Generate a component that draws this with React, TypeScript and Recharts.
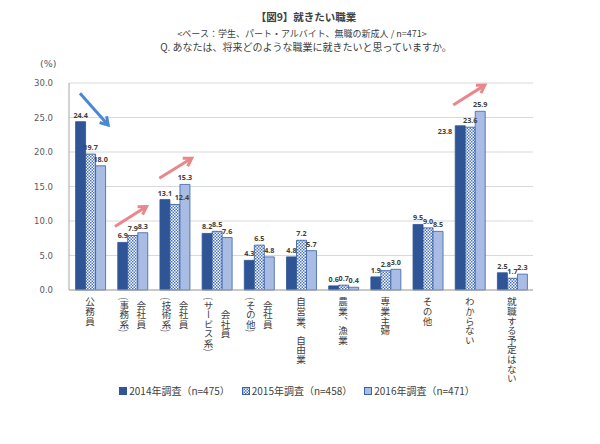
import React from "react";
import {
  BarChart,
  Bar,
  XAxis,
  YAxis,
  CartesianGrid,
  LabelList,
  ReferenceLine,
} from "recharts";

const categories = [
  "公務員",
  "会社員(事務系)",
  "会社員(技術系)",
  "会社員(サービス系)",
  "会社員(その他)",
  "自営業、自由業",
  "農業、漁業",
  "専業主婦",
  "その他",
  "わからない",
  "就職する予定はない",
];
const values2014 = [24.4, 6.9, 13.1, 8.2, 4.3, 4.8, 0.6, 1.9, 9.5, 23.8, 2.5];
const values2015 = [19.7, 7.9, 12.4, 8.5, 6.5, 7.2, 0.7, 2.8, 9.0, 23.6, 1.7];
const values2016 = [18.0, 8.3, 15.3, 7.6, 4.8, 5.7, 0.4, 3.0, 8.5, 25.9, 2.3];
const seriesNames = [
  "2014年調査（n=475）",
  "2015年調査（n=458）",
  "2016年調査（n=471）",
];
const yTicks = [0, 5, 10, 15, 20, 25, 30];

// trend arrows (annotation) in data space: [category position, value]
const blueArrows = [[[0.26, 28.5], [0.93, 23.9]]];
const pinkArrows = [
  [[1.09, 9.2], [1.84, 12.1]],
  [[2.14, 16.2], [2.91, 19.1]],
  [[9.11, 26.8], [9.86, 29.7]],
];
// label placement tweaks: 2014 label sitting left of its bar, 2015 label nudged right
const leftLabelIndex2014 = 9;
const nudgedLabelIndex2015 = 2;

const data = categories.map((c, i) => ({
  name: c,
  pos: i + 0.5,
  y2014: values2014[i],
  y2015: values2015[i],
  y2016: values2016[i],
}));

const C2014 = "#2F5597";
const C2016 = "#A9BCE3";
const BORDER = "#3A62A8";
const TEXT = "#404040";
const CJK = "'Noto Sans CJK JP', 'Noto Sans', sans-serif";

const splitLabel = (s: string): string[] => {
  const i = s.indexOf("(");
  if (i <= 0) return [s];
  return [s.slice(0, i), s.slice(i)];
};
const estLen = (s: string, fs: number) =>
  Array.from(s).reduce((a, ch) => a + (ch.charCodeAt(0) < 128 ? 0.34 : 1), 0) * fs;

const XTick = (props: any) => {
  const { x, y, payload } = props;
  const cols = splitLabel(String(payload.value));
  const fs = 9.6;
  const top = y + 7;
  const style: any = { writingMode: "vertical-rl", fontFamily: CJK };
  if (cols.length === 1) {
    return (
      <text x={x} y={top} fill={TEXT} fontSize={fs} textAnchor="start" style={style}>
        {cols[0]}
      </text>
    );
  }
  const L = Math.max(...cols.map((c) => estLen(c, fs)));
  return (
    <g>
      <text x={x + 9} y={top + L / 2} fill={TEXT} fontSize={fs} textAnchor="middle" style={style}>
        {cols[0]}
      </text>
      <text x={x - 8} y={top + L / 2} fill={TEXT} fontSize={fs} textAnchor="middle" style={style}>
        {cols[1]}
      </text>
    </g>
  );
};

const arrowShape = (color: string) => (p: any) => {
  const { x1, y1, x2, y2 } = p;
  if ([x1, y1, x2, y2].some((v) => typeof v !== "number" || isNaN(v))) return <g />;
  const ang = Math.atan2(y2 - y1, x2 - x1);
  const hl = 9;
  const a1 = ang + Math.PI - 0.55;
  const a2 = ang + Math.PI + 0.55;
  return (
    <g>
      <line x1={x1} y1={y1} x2={x2 - Math.cos(ang) * 1.5} y2={y2 - Math.sin(ang) * 1.5} stroke={color} strokeWidth={3} />
      <polyline
        points={`${x2 + Math.cos(a1) * hl},${y2 + Math.sin(a1) * hl} ${x2},${y2} ${x2 + Math.cos(a2) * hl},${y2 + Math.sin(a2) * hl}`}
        fill="none"
        stroke={color}
        strokeWidth={3}
        strokeLinejoin="miter"
      />
    </g>
  );
};

const labelFmt = (v: any) => Number(v).toFixed(1);
const LABEL_FONT = "'Noto Sans', sans-serif";
const LABEL_SIZE = 7.2;
const labelStyle = {
  fontSize: LABEL_SIZE,
  fontWeight: 700,
  fill: TEXT,
  fontFamily: LABEL_FONT,
};

const ValueText = ({ x, y, anchor, txt }: any) => (
  <text x={x} y={y} textAnchor={anchor} fontSize={LABEL_SIZE} fontWeight={700} fill={TEXT} fontFamily={LABEL_FONT}>
    {txt}
  </text>
);

const Label2014 = (p: any) => {
  const { x, y, width, value, index } = p;
  const txt = Number(value).toFixed(1);
  if (index === leftLabelIndex2014) {
    return <ValueText x={x - 3} y={y + 8} anchor="end" txt={txt} />;
  }
  return <ValueText x={x + width / 2} y={y - 4} anchor="middle" txt={txt} />;
};

const Label2015 = (p: any) => {
  const { x, y, width, value, index } = p;
  const txt = Number(value).toFixed(1);
  const dx = index === nudgedLabelIndex2015 ? width * 0.7 : 0;
  return <ValueText x={x + width / 2 + dx} y={y - 4} anchor="middle" txt={txt} />;
};

const LegendIcon = ({ i }: { i: number }) => (
  <svg width={8} height={8} style={{ marginRight: 2 }}>
    <rect
      x={0.5}
      y={0.5}
      width={7}
      height={7}
      fill={i === 0 ? C2014 : i === 1 ? "url(#chk)" : C2016}
      stroke={i === 0 ? C2014 : BORDER}
      strokeWidth={1}
    />
  </svg>
);

export default function App() {
  return (
    <div
      style={{
        position: "absolute",
        left: 0,
        top: 0,
        width: 600,
        height: 444,
        background: "#fff",
        fontFamily: CJK,
        color: TEXT,
        overflow: "hidden",
      }}
    >
      <svg width={0} height={0} style={{ position: "absolute" }}>
        <defs>
          <pattern id="chk" width={3} height={3} patternUnits="userSpaceOnUse">
            <rect width={3} height={3} fill="#ffffff" />
            <rect x={0} y={0} width={1.5} height={1.5} fill="#4A74C0" />
            <rect x={1.5} y={1.5} width={1.5} height={1.5} fill="#4A74C0" />
          </pattern>
        </defs>
      </svg>
      <div style={{ position: "absolute", left: 0, width: 612, top: 10, textAlign: "center", fontSize: 10.5, fontWeight: 700, lineHeight: "14px" }}>
        【図9】就きたい職業
      </div>
      <div style={{ position: "absolute", left: 0, width: 604, top: 28, textAlign: "center", fontSize: 9, lineHeight: "11px" }}>
        &lt;ベース：学生、パート・アルバイト、無職の新成人 / n=471&gt;
      </div>
      <div style={{ position: "absolute", left: 0, width: 612, top: 41, textAlign: "center", fontSize: 10, lineHeight: "12px" }}>
        Q. あなたは、将来どのような職業に就きたいと思っていますか。
      </div>
      <div style={{ position: "absolute", left: 40, top: 58, fontSize: 9.5, lineHeight: "12px", fontFamily: "'DejaVu Sans', sans-serif", color: "#595959" }}>
        (%)
      </div>
      <div style={{ position: "absolute", left: 0, top: 0 }}>
        <BarChart
          width={600}
          height={444}
          data={data}
          margin={{ top: 83, right: 67, bottom: 0, left: 0 }}
          barCategoryGap="15.6%"
          barGap={0}
        >
          <CartesianGrid vertical={false} stroke="#d9d9d9" />
          <XAxis
            dataKey="name"
            height={154}
            interval={0}
            tickLine={false}
            tickSize={0}
            tickMargin={0}
            axisLine={{ stroke: "#a6a6a6" }}
            tick={<XTick />}
          />
          <XAxis xAxisId="n" dataKey="pos" type="number" domain={[0, categories.length]} allowDataOverflow hide />
          <YAxis
            width={69}
            domain={[0, 30]}
            ticks={yTicks}
            tickFormatter={(v: number) => v.toFixed(1)}
            tickLine={false}
            tickMargin={10}
            axisLine={{ stroke: "#a6a6a6" }}
            tick={{ fontSize: 8.5, fill: "#595959", fontFamily: "'DejaVu Sans', sans-serif" }}
          />
          <YAxis
            yAxisId="r"
            orientation="right"
            width={0}
            domain={[0, 30]}
            tick={false}
            tickLine={false}
            axisLine={{ stroke: "#a6a6a6" }}
          />
          <Bar dataKey="y2014" name={seriesNames[0]} fill={C2014} stroke={C2014} strokeWidth={0.8} isAnimationActive={false}>
            <LabelList dataKey="y2014" content={<Label2014 />} />
          </Bar>
          <Bar dataKey="y2015" name={seriesNames[1]} fill="url(#chk)" stroke={C2014} strokeWidth={0.8} isAnimationActive={false}>
            <LabelList dataKey="y2015" content={<Label2015 />} />
          </Bar>
          <Bar dataKey="y2016" name={seriesNames[2]} fill={C2016} stroke={BORDER} strokeWidth={0.8} isAnimationActive={false}>
            <LabelList dataKey="y2016" position="top" offset={4} formatter={labelFmt} style={labelStyle} />
          </Bar>
          {blueArrows.map((a, i) => (
            <ReferenceLine
              key={"b" + i}
              xAxisId="n"
              segment={[{ x: a[0][0], y: a[0][1] }, { x: a[1][0], y: a[1][1] }]}
              shape={arrowShape("#4A88D6")}
            />
          ))}
          {pinkArrows.map((a, i) => (
            <ReferenceLine
              key={"p" + i}
              xAxisId="n"
              segment={[{ x: a[0][0], y: a[0][1] }, { x: a[1][0], y: a[1][1] }]}
              shape={arrowShape("#E8878C")}
            />
          ))}
        </BarChart>
      </div>
      <div
        style={{
          position: "absolute",
          left: 0,
          width: 594,
          top: 384,
          display: "flex",
          justifyContent: "center",
          gap: 12,
          fontSize: 10,
          lineHeight: "14px",
        }}
      >
        {seriesNames.map((n, i) => (
          <div key={n} style={{ display: "flex", alignItems: "center" }}>
            <LegendIcon i={i} />
            <span>{n}</span>
          </div>
        ))}
      </div>
    </div>
  );
}
